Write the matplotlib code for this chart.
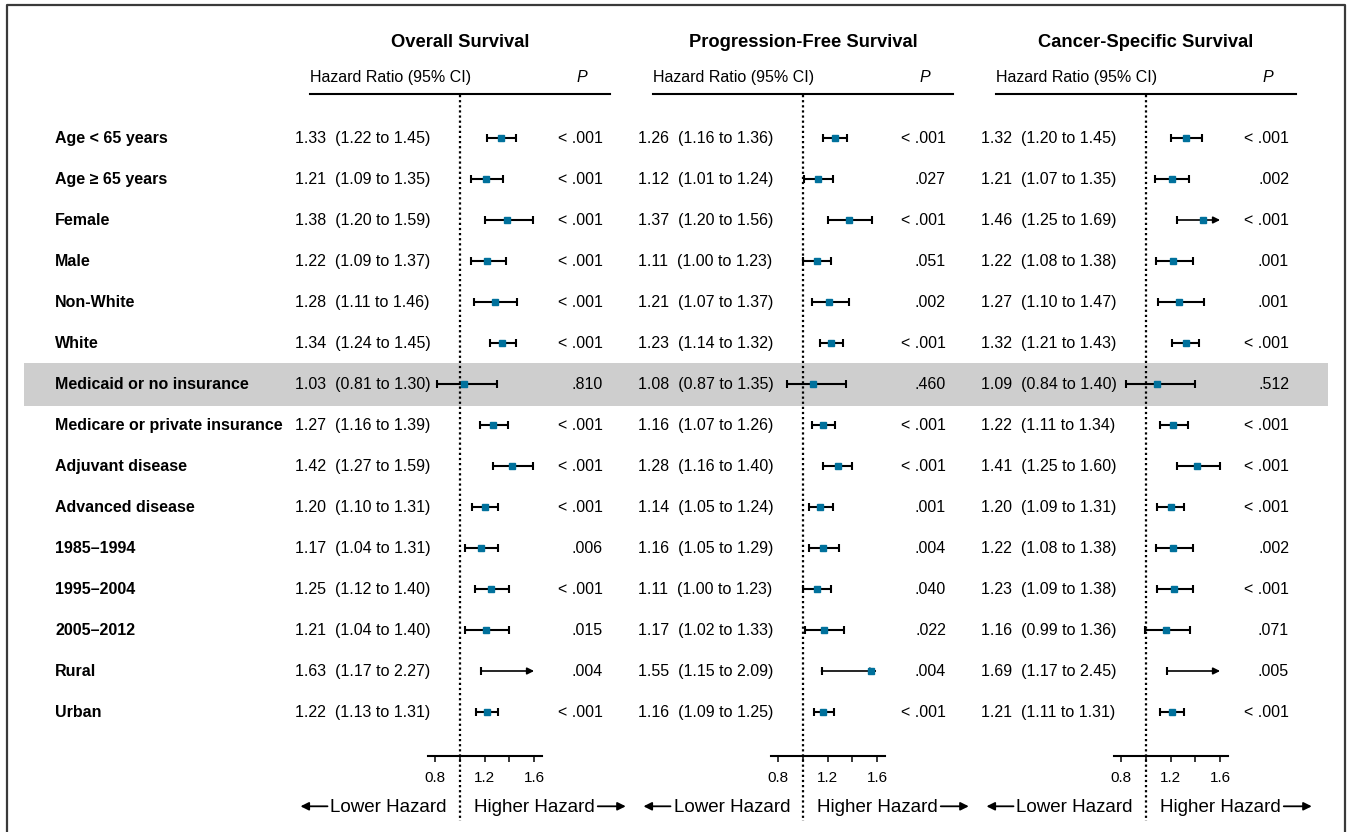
import numpy as np
import matplotlib.pyplot as plt
from matplotlib.text import OffsetFrom

plt.rcParams['font.family'] = ['Liberation Sans', 'DejaVu Sans']

# ---------------------------------------------------------------- data
subgroups = ['Age < 65 years', 'Age \u2265 65 years', 'Female', 'Male', 'Non-White', 'White',
             'Medicaid or no insurance', 'Medicare or private insurance', 'Adjuvant disease',
             'Advanced disease', '1985\u20131994', '1995\u20132004', '2005\u20132012', 'Rural', 'Urban']

os_hr = [1.33, 1.21, 1.38, 1.22, 1.28, 1.34, 1.03, 1.27, 1.42, 1.20, 1.17, 1.25, 1.21, 1.63, 1.22]
os_lo = [1.22, 1.09, 1.20, 1.09, 1.11, 1.24, 0.81, 1.16, 1.27, 1.10, 1.04, 1.12, 1.04, 1.17, 1.13]
os_hi = [1.45, 1.35, 1.59, 1.37, 1.46, 1.45, 1.30, 1.39, 1.59, 1.31, 1.31, 1.40, 1.40, 2.27, 1.31]
os_p = ['< .001', '< .001', '< .001', '< .001', '< .001', '< .001', '.810', '< .001', '< .001',
        '< .001', '.006', '< .001', '.015', '.004', '< .001']

pfs_hr = [1.26, 1.12, 1.37, 1.11, 1.21, 1.23, 1.08, 1.16, 1.28, 1.14, 1.16, 1.11, 1.17, 1.55, 1.16]
pfs_lo = [1.16, 1.01, 1.20, 1.00, 1.07, 1.14, 0.87, 1.07, 1.16, 1.05, 1.05, 1.00, 1.02, 1.15, 1.09]
pfs_hi = [1.36, 1.24, 1.56, 1.23, 1.37, 1.32, 1.35, 1.26, 1.40, 1.24, 1.29, 1.23, 1.33, 2.09, 1.25]
pfs_p = ['< .001', '.027', '< .001', '.051', '.002', '< .001', '.460', '< .001', '< .001',
         '.001', '.004', '.040', '.022', '.004', '< .001']

css_hr = [1.32, 1.21, 1.46, 1.22, 1.27, 1.32, 1.09, 1.22, 1.41, 1.20, 1.22, 1.23, 1.16, 1.69, 1.21]
css_lo = [1.20, 1.07, 1.25, 1.08, 1.10, 1.21, 0.84, 1.11, 1.25, 1.09, 1.08, 1.09, 0.99, 1.17, 1.11]
css_hi = [1.45, 1.35, 1.69, 1.38, 1.47, 1.43, 1.40, 1.34, 1.60, 1.31, 1.38, 1.38, 1.36, 2.45, 1.31]
css_p = ['< .001', '.002', '< .001', '.001', '.001', '< .001', '.512', '< .001', '< .001',
         '< .001', '.002', '< .001', '.071', '.005', '< .001']

panel_titles = ['Overall Survival', 'Progression-Free Survival', 'Cancer-Specific Survival']
panels = [(os_hr, os_lo, os_hi, os_p), (pfs_hr, pfs_lo, pfs_hi, pfs_p), (css_hr, css_lo, css_hi, css_p)]
highlight_row = 6

tick_values = [0.8, 1.0, 1.2, 1.4, 1.6]
tick_labels = ['0.8', '', '1.2', '', '1.6']

# ---------------------------------------------------------------- layout (pixels)
FIG_W, FIG_H = 1350, 832
ROW0, ROW_H = 138, 41
REF_X, PANEL_STEP = 460, 343
PX_PER_HR = 123.5
AXIS_LO, AXIS_HI = 0.741, 1.664
CLIP_HI = 1.6
SQUARE = '#00719c'
BAND = '#cecece'


def row_y(py):
    return (py - ROW0) / ROW_H


fig = plt.figure(figsize=(FIG_W / 100, FIG_H / 100), dpi=100)

bg = fig.add_axes([0, 0, 1, 1])
bg.set_xlim(0, FIG_W)
bg.set_ylim(row_y(FIG_H), row_y(0))
bg.axis('off')

bg.axhspan(highlight_row - 0.52, highlight_row + 0.53, xmin=24 / FIG_W, xmax=1328 / FIG_W,
           color=BAND, lw=0, zorder=0)
bg.plot([7, 7, 1345, 1345], [row_y(FIG_H + 10), row_y(5), row_y(5), row_y(FIG_H + 10)],
        color='#3a3a3a', lw=1.6, clip_on=False)

for i, name in enumerate(subgroups):
    bg.text(55, i, name, weight='bold', size=11.5, va='center')

for k, (hr, lo, hi, pv) in enumerate(panels):
    ref = REF_X + PANEL_STEP * k

    # header
    bg.text(ref, row_y(42), panel_titles[k], weight='bold', size=13.2, ha='center', va='center')
    bg.text(ref - 150, row_y(77), 'Hazard Ratio (95% CI)', size=11.5, va='center')
    bg.text(ref + 122, row_y(77), 'P', style='italic', size=11.5, ha='center', va='center')
    bg.plot([ref - 150, ref + 150], [row_y(94), row_y(94)], color='black', lw=1.5)

    # text columns
    for i in range(len(subgroups)):
        bg.text(ref - 165, i, f'{hr[i]:.2f}  ({lo[i]:.2f} to {hi[i]:.2f})', size=11.5, va='center')
        bg.text(ref + 143, i, pv[i], size=11.5, ha='right', va='center')

    # lower / higher hazard
    t_lo = bg.text(ref - 13, row_y(808), 'Lower Hazard', size=13.5, ha='right', va='center')
    t_hi = bg.text(ref + 14, row_y(808), 'Higher Hazard', size=13.5, ha='left', va='center')
    bg.annotate('', xy=(-30, 0), xycoords=OffsetFrom(t_lo, (0, 0.6), unit='pixels'),
                xytext=(-3, 0), textcoords=OffsetFrom(t_lo, (0, 0.6), unit='pixels'),
                arrowprops=dict(arrowstyle='-|>', color='black', lw=1.3, mutation_scale=12,
                                shrinkA=0, shrinkB=0))
    bg.annotate('', xy=(31, 0), xycoords=OffsetFrom(t_hi, (1, 0.6), unit='pixels'),
                xytext=(3, 0), textcoords=OffsetFrom(t_hi, (1, 0.6), unit='pixels'),
                arrowprops=dict(arrowstyle='-|>', color='black', lw=1.3, mutation_scale=12,
                                shrinkA=0, shrinkB=0))

    # forest axes
    left_px = ref + (AXIS_LO - 1) * PX_PER_HR
    width_px = (AXIS_HI - AXIS_LO) * PX_PER_HR
    fx = fig.add_axes([left_px / FIG_W, (FIG_H - 756) / FIG_H, width_px / FIG_W, (756 - 95) / FIG_H])
    fx.set_xlim(AXIS_LO, AXIS_HI)
    fx.set_ylim(row_y(756), row_y(95))
    fx.patch.set_visible(False)
    for s in ['top', 'left', 'right']:
        fx.spines[s].set_visible(False)
    fx.spines['bottom'].set_linewidth(1.5)
    fx.set_xticks(tick_values, labels=tick_labels)
    fx.set_yticks([])
    fx.tick_params(axis='x', direction='out', length=4, width=1.1, pad=7, labelsize=11)

    fx.plot([1, 1], [row_y(95), row_y(821)], ls=(0, (1, 1.3)), color='black', lw=1.6, clip_on=False,
            zorder=1)

    for i in range(len(subgroups)):
        if hi[i] > CLIP_HI:
            fx.annotate('', xy=(CLIP_HI, i), xytext=(lo[i], i),
                        arrowprops=dict(arrowstyle='-|>', color='black', lw=1.2, mutation_scale=10,
                                        shrinkA=0, shrinkB=0), annotation_clip=False)
            fx.plot([lo[i]], [i], marker='|', ms=6, mew=1.5, color='black')
        else:
            fx.errorbar([hr[i]], [i], xerr=[[hr[i] - lo[i]], [hi[i] - hr[i]]], fmt='none',
                        ecolor='black', elinewidth=1.5, capsize=3, capthick=1.5, zorder=3)
        if hr[i] <= CLIP_HI:
            fx.plot([hr[i]], [i], marker='s', ms=4.5, color=SQUARE, mec=SQUARE, zorder=4)

fig.savefig('out.png', dpi=100)
